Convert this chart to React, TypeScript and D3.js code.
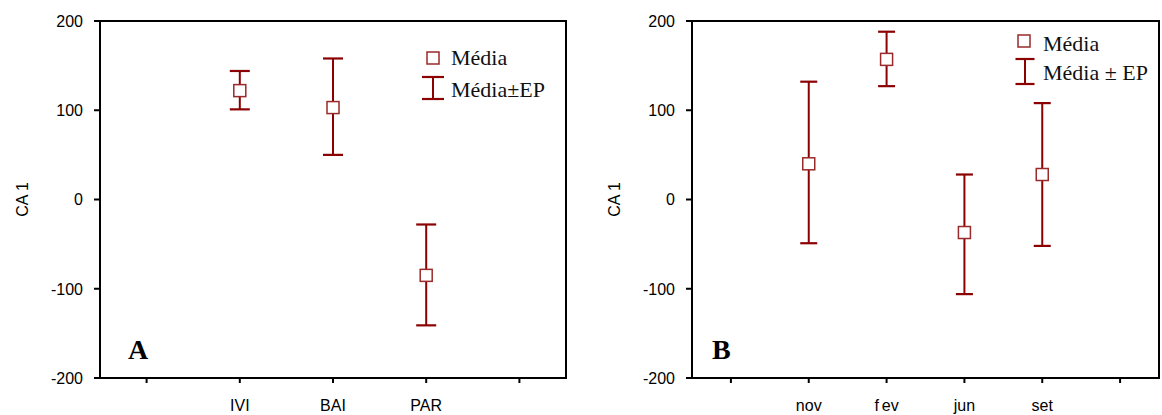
import React from "react";
import * as d3 from "d3";

// Panel A: CA 1 scores by site
const siteCategories = ["IVI", "BAI", "PAR"];
const siteMean = [122, 103, -85];
const siteUpper = [144, 158, -28];
const siteLower = [101, 50, -141];

// Panel B: CA 1 scores by sampling month
const monthCategories = ["nov", "fev", "jun", "set"];
const monthMean = [40, 157, -37, 28];
const monthUpper = [132, 188, 28, 108];
const monthLower = [-49, 127, -106, -52];

const yTicks = [-200, -100, 0, 100, 200];

const BAR = "#8b0000";
const MARK = "#9a2a2a";
const SANS = "'Liberation Sans', Arial, Helvetica, sans-serif";
const SERIF = "'Liberation Serif', 'Times New Roman', serif";

type PanelProps = {
  left: number;
  right: number;
  categories: string[];
  mean: number[];
  upper: number[];
  lower: number[];
  capWidth: number;
  letter: string;
  letterDx: number;
  legend: { sqX: number; sqY: number; capX: number; capTop: number; capBottom: number; capW: number; textX: number; base1: number; base2: number; label2: string };
};

function Panel(p: PanelProps) {
  const top = 21;
  const bottom = 378;
  const n = p.categories.length;
  const x = d3.scaleLinear().domain([-0.5, n + 1.5]).range([p.left, p.right]);
  const y = d3.scaleLinear().domain([-200, 200]).range([bottom, top]);
  const xTicks = d3.range(0, n + 2);
  const sq = 12;
  const lg = p.legend;

  return (
    <g>
      {/* frame */}
      <rect x={p.left} y={top} width={p.right - p.left} height={bottom - top} fill="none" stroke="#000" strokeWidth={2} />
      {/* y axis */}
      {yTicks.map((t) => (
        <g key={t}>
          <line x1={p.left - 6} x2={p.left} y1={y(t)} y2={y(t)} stroke="#000" strokeWidth={2} />
          <text x={p.left - 17} y={y(t)} dy="0.36em" textAnchor="end" fontFamily={SANS} fontSize={16} fill="#000">
            {t}
          </text>
        </g>
      ))}
      <text
        transform={`translate(${p.left - 78},${(top + bottom) / 2}) rotate(-90)`}
        textAnchor="middle"
        dy="0.36em"
        fontFamily={SANS}
        fontSize={16}
        fill="#000"
      >
        CA 1
      </text>
      {/* x axis */}
      {xTicks.map((t) => (
        <line key={t} x1={x(t)} x2={x(t)} y1={bottom} y2={bottom + 5} stroke="#000" strokeWidth={2} />
      ))}
      {p.categories.map((c, i) => (
        <text key={c} x={x(i + 1)} y={411} textAnchor="middle" fontFamily={SANS} fontSize={16} fill="#000">
          {c === "fev" ? (
            <>
              f<tspan dx={3}>ev</tspan>
            </>
          ) : (
            c
          )}
        </text>
      ))}
      {/* error bars and means */}
      {p.categories.map((c, i) => {
        const cx = x(i + 1);
        return (
          <g key={c}>
            <line x1={cx} x2={cx} y1={y(p.upper[i])} y2={y(p.lower[i])} stroke={BAR} strokeWidth={2} />
            <line x1={cx - p.capWidth / 2} x2={cx + p.capWidth / 2} y1={y(p.upper[i])} y2={y(p.upper[i])} stroke={BAR} strokeWidth={2.2} />
            <line x1={cx - p.capWidth / 2} x2={cx + p.capWidth / 2} y1={y(p.lower[i])} y2={y(p.lower[i])} stroke={BAR} strokeWidth={2.2} />
            <rect x={cx - sq / 2} y={y(p.mean[i]) - sq / 2} width={sq} height={sq} fill="#fff" stroke={MARK} strokeWidth={1.5} />
          </g>
        );
      })}
      {/* panel letter */}
      <text x={p.left + p.letterDx} y={359} fontFamily={SERIF} fontWeight="bold" fontSize={28} fill="#000">
        {p.letter}
      </text>
      {/* legend */}
      <rect x={lg.sqX - sq / 2} y={lg.sqY - sq / 2} width={sq} height={sq} fill="#fff" stroke={MARK} strokeWidth={1.5} />
      <text x={lg.textX} y={lg.base1} fontFamily={SERIF} fontSize={22} fill="#111">
        Média
      </text>
      <line x1={lg.capX} x2={lg.capX} y1={lg.capTop} y2={lg.capBottom} stroke={BAR} strokeWidth={2} />
      <line x1={lg.capX - lg.capW / 2} x2={lg.capX + lg.capW / 2} y1={lg.capTop} y2={lg.capTop} stroke={BAR} strokeWidth={2.2} />
      <line x1={lg.capX - lg.capW / 2} x2={lg.capX + lg.capW / 2} y1={lg.capBottom} y2={lg.capBottom} stroke={BAR} strokeWidth={2.2} />
      <text x={lg.textX} y={lg.base2} fontFamily={SERIF} fontSize={22} fill="#111">
        {lg.label2}
      </text>
    </g>
  );
}

export default function App() {
  return (
    <svg
      width={1162}
      height={415}
      viewBox="0 0 1162 415"
      style={{ position: "absolute", left: 0, top: 0, background: "#fff" }}
    >
      <rect width={1162} height={415} fill="#fff" />
      <Panel
        left={100}
        right={566}
        categories={siteCategories}
        mean={siteMean}
        upper={siteUpper}
        lower={siteLower}
        capWidth={20}
        letter="A"
        letterDx={28}
        legend={{ sqX: 433, sqY: 58, capX: 433, capTop: 77, capBottom: 99, capW: 22, textX: 451, base1: 65, base2: 97, label2: "Média±EP" }}
      />
      <Panel
        left={692}
        right={1159}
        categories={monthCategories}
        mean={monthMean}
        upper={monthUpper}
        lower={monthLower}
        capWidth={17}
        letter="B"
        letterDx={20}
        legend={{ sqX: 1024, sqY: 41, capX: 1025, capTop: 59, capBottom: 84, capW: 19, textX: 1043, base1: 51, base2: 80, label2: "Média ± EP" }}
      />
    </svg>
  );
}
